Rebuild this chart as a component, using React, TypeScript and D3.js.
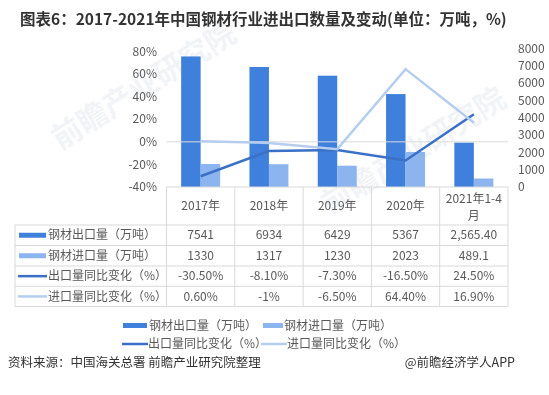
import React from "react";
import { scaleBand, scaleLinear, line } from "d3";

const categories = ["2017年", "2018年", "2019年", "2020年", "2021年1-4月"];
const headerLines = [["2017年"], ["2018年"], ["2019年"], ["2020年"], ["2021年1-4", "月"]];
const exportVol = [7541, 6934, 6429, 5367, 2565.4];
const importVol = [1330, 1317, 1230, 2023, 489.1];
const exportYoY = [-30.5, -8.1, -7.3, -16.5, 24.5];
const importYoY = [0.6, -1, -6.5, 64.4, 16.9];
const exportLabels = ["7541", "6934", "6429", "5367", "2,565.40"];
const importLabels = ["1330", "1317", "1230", "2023", "489.1"];
const exportYoYLabels = ["-30.50%", "-8.10%", "-7.30%", "-16.50%", "24.50%"];
const importYoYLabels = ["0.60%", "-1%", "-6.50%", "64.40%", "16.90%"];
const leftTicks = [80, 60, 40, 20, 0, -20, -40];
const rightTicks = [8000, 7000, 6000, 5000, 4000, 3000, 2000, 1000, 0];

const seriesNames = ["钢材出口量（万吨）", "钢材进口量（万吨）", "出口量同比变化（%）", "进口量同比变化（%）"];
const C_EXP = "#3f80dc";
const C_IMP = "#8cb4ee";
const C_EXP_L = "#3a70c5";
const C_IMP_L = "#b5cdef";
const TXT = "#595959";
const GRID = "#d9d9d9";
const FONT = "'Noto Sans CJK SC', 'Noto Sans', sans-serif";

export default function App() {
  const W = 549;
  const H = 395;
  const x0 = 166.5;
  const x1 = 508;
  const plotBottom = 187;

  const x = scaleBand<string>().domain(categories).range([x0, x1]).paddingInner(0).paddingOuter(0);
  const yL = scaleLinear().domain([-40, 80]).range([plotBottom, 51.5]);
  const yR = scaleLinear().domain([0, 8000]).range([plotBottom, 48.5]);
  const bw = 19.5;
  const cx = (c: string) => (x(c) as number) + x.bandwidth() / 2;

  const lineGen = line<number>()
    .x((_, i) => cx(categories[i]))
    .y((d) => yL(d));

  const rowTops = [225, 245.5, 266, 286.3, 306.6];
  const rows = [
    { labels: exportLabels, kind: "bar", color: C_EXP },
    { labels: importLabels, kind: "bar", color: C_IMP },
    { labels: exportYoYLabels, kind: "line", color: C_EXP_L },
    { labels: importYoYLabels, kind: "line", color: C_IMP_L },
  ];
  const bounds = [x0, ...categories.map((c) => (x(c) as number) + x.bandwidth())];

  return (
    <svg width={W} height={H} style={{ position: "absolute", left: 0, top: 0, background: "#fff" }} fontFamily={FONT}>
      <rect width={W} height={H} fill="#fff" />
      {/* watermark */}
      <g fill="#e6e9ee" opacity={0.55} fontSize={30} fontWeight={700}>
        <text transform="translate(60,150) rotate(-32)">前瞻产业研究院</text>
        <text transform="translate(330,215) rotate(-32)">前瞻产业研究院</text>
      </g>

      <text x={20} y={25} fontSize={15.5} fontWeight={700} fill="#333">
        图表6：2017-2021年中国钢材行业进出口数量及变动(单位：万吨，%)
      </text>

      {/* bars */}
      {categories.map((c, i) => (
        <g key={c}>
          <rect x={cx(c) - bw} y={yR(exportVol[i])} width={bw} height={plotBottom - yR(exportVol[i])} fill={C_EXP} />
          <rect x={cx(c)} y={yR(importVol[i])} width={bw} height={plotBottom - yR(importVol[i])} fill={C_IMP} />
        </g>
      ))}

      {/* zero gridline */}
      <line x1={x0} x2={x1} y1={yL(0)} y2={yL(0)} stroke={GRID} strokeWidth={1} />

      {/* lines */}
      <path d={lineGen(exportYoY) as string} fill="none" stroke={C_EXP_L} strokeWidth={2.5} />
      <path d={lineGen(importYoY) as string} fill="none" stroke={C_IMP_L} strokeWidth={2.5} />

      {/* left axis */}
      {leftTicks.map((t) => (
        <text key={t} x={157} y={yL(t)} dy="0.35em" textAnchor="end" fontSize={12} fill={TXT}>
          {t}%
        </text>
      ))}
      {/* right axis */}
      {rightTicks.map((t) => (
        <text key={t} x={518} y={yR(t)} dy="0.35em" fontSize={12} fill={TXT}>
          {t}
        </text>
      ))}

      {/* data table */}
      <g stroke={GRID} strokeWidth={1} fill="none">
        <line x1={x0} x2={x1} y1={plotBottom} y2={plotBottom} />
        {rowTops.map((yy) => (
          <line key={yy} x1={15} x2={x1} y1={yy} y2={yy} />
        ))}
        {bounds.map((bx) => (
          <line key={bx} x1={bx} x2={bx} y1={plotBottom} y2={rowTops[rowTops.length - 1]} />
        ))}
        <line x1={15} x2={15} y1={rowTops[0]} y2={rowTops[rowTops.length - 1]} />
      </g>
      {categories.map((c, i) =>
        headerLines[i].map((t, j) => (
          <text
            key={c + j}
            x={cx(c)}
            y={headerLines[i].length === 1 ? 206 : 199 + j * 17}
            dy="0.35em"
            textAnchor="middle"
            fontSize={12}
            fill={TXT}
          >
            {t}
          </text>
        ))
      )}
      {rows.map((r, ri) => {
        const mid = (rowTops[ri] + rowTops[ri + 1]) / 2;
        return (
          <g key={ri}>
            {r.kind === "bar" ? (
              <rect x={19} y={mid - 2.5} width={27} height={5} fill={r.color} />
            ) : (
              <line x1={18} x2={47} y1={mid} y2={mid} stroke={r.color} strokeWidth={2.5} />
            )}
            <text x={48} y={mid} dy="0.35em" fontSize={12} fill={TXT}>
              {seriesNames[ri]}
            </text>
            {r.labels.map((l, i) => (
              <text key={i} x={cx(categories[i])} y={mid} dy="0.35em" textAnchor="middle" fontSize={12} fill={TXT}>
                {l}
              </text>
            ))}
          </g>
        );
      })}

      {/* legend */}
      <g fontSize={12} fill={TXT}>
        <rect x={123} y={323} width={24} height={5} fill={C_EXP} />
        <text x={149} y={326} dy="0.35em">{seriesNames[0]}</text>
        <rect x={263} y={323} width={20} height={5} fill={C_IMP} />
        <text x={284} y={326} dy="0.35em">{seriesNames[1]}</text>
        <line x1={122} x2={148} y1={344} y2={344} stroke={C_EXP_L} strokeWidth={2.5} />
        <text x={148} y={344} dy="0.35em">{seriesNames[2]}</text>
        <line x1={261} x2={287} y1={344} y2={344} stroke={C_IMP_L} strokeWidth={2.5} />
        <text x={287} y={344} dy="0.35em">{seriesNames[3]}</text>
      </g>

      {/* source */}
      <text x={8} y={363} dy="0.35em" fontSize={12.5} fill="#333">
        资料来源：中国海关总署 前瞻产业研究院整理
      </text>
      <text x={515} y={363} dy="0.35em" textAnchor="end" fontSize={12.5} fill="#333">
        @前瞻经济学人APP
      </text>
    </svg>
  );
}
